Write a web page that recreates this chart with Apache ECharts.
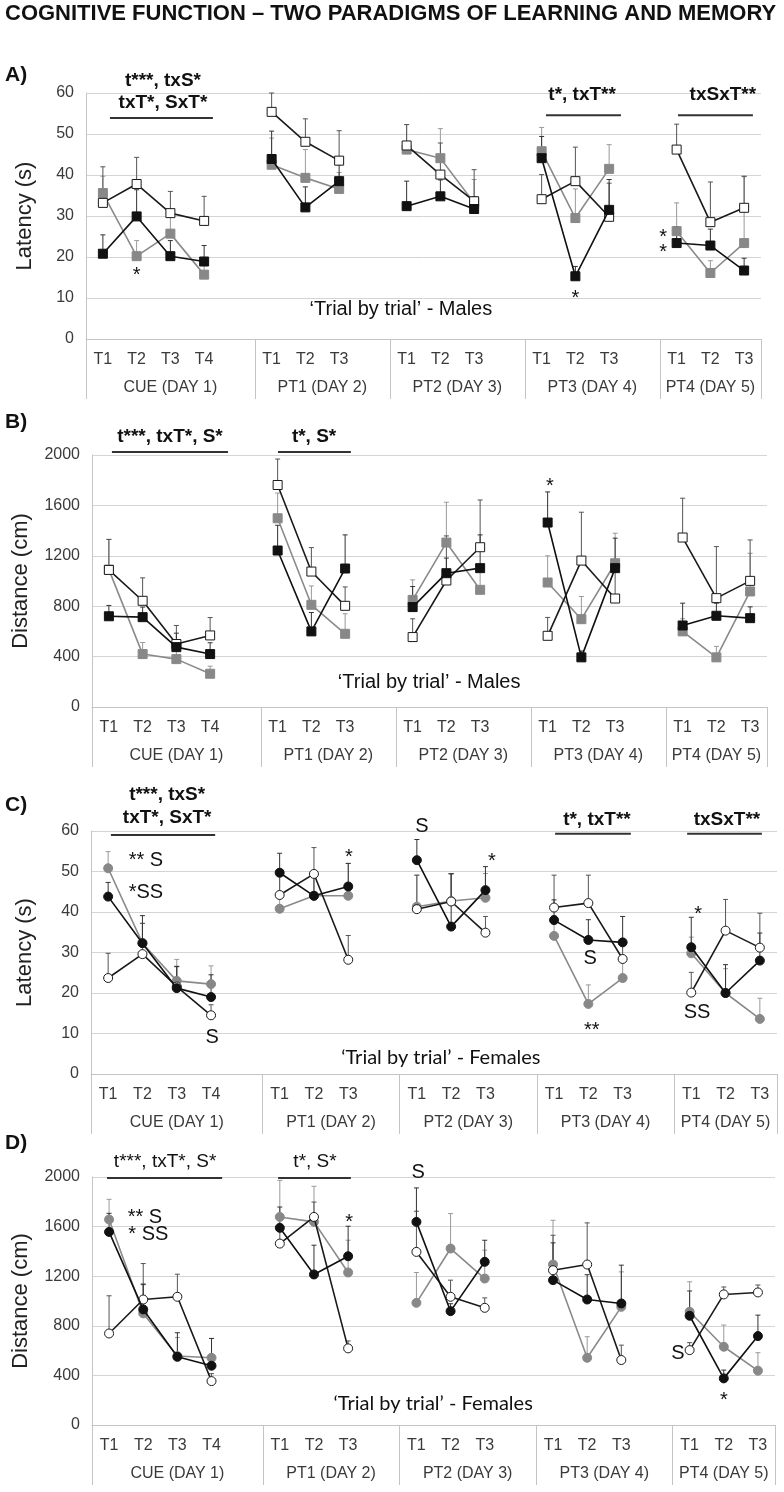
<!DOCTYPE html>
<html>
<head>
<meta charset="utf-8">
<script src="https://cdn.jsdelivr.net/npm/echarts@6/dist/echarts.min.js"></script>
<style>
  html, body { margin: 0; background: #fff; }
  #main { width: 784px; height: 1492px; }
</style>
</head>
<body>
<div id="main"></div>
<script>
// x slots: trials per day, empty slot = gap between days
const slots = ['T1', 'T2', 'T3', 'T4', '', 'T1', 'T2', 'T3', '', 'T1', 'T2', 'T3', '', 'T1', 'T2', 'T3', '', 'T1', 'T2', 'T3']
const days = ['CUE (DAY 1)', 'PT1 (DAY 2)', 'PT2 (DAY 3)', 'PT3 (DAY 4)', 'PT4 (DAY 5)']
const dayEdges = [0, 5, 9, 13, 17, 20]
const dayMid = [2.5, 7, 11, 15, 18.5]

// values in trial order: CUE T1-T4, PT1 T1-T3, PT2, PT3, PT4
// A) latency, males
const latMaleBlack = [20.8, 29.9, 20.2, 18.9, 43.9, 32.1, 38.5, 32.4, 34.8, 31.7, 44.1, 15.3, 31.5, 23.4, 22.8, 16.7]
const latMaleBlackSE = [4.6, 6.5, 3.8, 3.9, 6.8, 5, 4, 6.1, 4, 3, 5.3, 2.4, 7.4, 4, 4, 3]
const latMaleGrey = [35.6, 20.2, 25.7, 15.7, 42.5, 39.3, 36.6, 46.2, 44.1, 33.2, 45.8, 29.5, 41.5, 26.3, 16.1, 23.4]
const latMaleGreySE = [4.1, 3.8, 4, 3, 6.5, 6.9, 4, 6.1, 7.2, 5.7, 5.8, 7.1, 5.9, 6.9, 3, 16.4]
const latMaleWhite = [33.2, 37.8, 30.7, 28.8, 55.4, 48.1, 43.5, 47.2, 40.1, 33.6, 34.1, 38.5, 29.8, 46.2, 28.5, 32]
const latMaleWhiteSE = [8.8, 6.5, 5.3, 6, 4.6, 5.6, 7.3, 5.1, 7.7, 7.7, 6, 8.3, 8.2, 6.2, 9.8, 7.6]
// B) distance, males
const distMaleBlack = [720, 713, 475, 420, 1242, 600, 1099, 793, 1062, 1102, 1464, 394, 1102, 647, 724, 705]
const distMaleBlackSE = [86, 80, 111, 90, 200, 150, 267, 163, 120, 264, 243, 50, 238, 177, 100, 90]
const distMaleGrey = [1090, 420, 380, 264, 1498, 811, 581, 850, 1305, 930, 988, 697, 1141, 600, 394, 917]
const distMaleGreySE = [240, 92, 120, 60, 200, 150, 159, 159, 320, 150, 212, 180, 238, 100, 87, 303]
const distMaleWhite = [1088, 843, 500, 568, 1762, 1075, 803, 555, 1004, 1268, 565, 1162, 861, 1345, 864, 1001]
const distMaleWhiteSE = [242, 182, 147, 142, 206, 190, 150, 145, 354, 375, 146, 384, 300, 312, 409, 325]
// C) latency, females
const latFemBlack = [43.8, 32.3, 21.2, 19, 49.7, 44, 46.3, 52.8, 36.4, 45.4, 38, 33.1, 32.5, 31.3, 20, 28]
const latFemBlackSE = [3.5, 6.8, 5.3, 5.5, 4.8, 5, 5.7, 5.1, 13, 5.8, 5, 5, 6.4, 7.4, 7, 6.8]
const latFemGrey = [50.8, 32.3, 23, 22.2, 40.8, 44, 44, 41.3, 42.7, 43.5, 34.1, 17.3, 23.7, 29.8, 20, 13.6]
const latFemGreySE = [4.1, 4.9, 5.3, 4.5, 8, 5, 8, 7.8, 6.8, 6, 5, 4.7, 5, 4, 6, 5.1]
const latFemWhite = [23.7, 29.6, 21.6, 14.5, 44.2, 49.4, 28.2, 40.7, 42.6, 34.9, 41.1, 42.2, 28.4, 20.1, 35.4, 31.2]
const latFemWhiteSE = [6.1, 7.6, 5, 2.6, 5, 6.5, 6, 8.4, 6.9, 4, 8, 6.9, 5, 5, 7.7, 8.5]
// D) distance, females
const distFemBlack = [1557, 932, 550, 478, 1590, 1214, 1361, 1638, 918, 1316, 1168, 1012, 980, 881, 376, 717]
const distFemBlackSE = [150, 200, 194, 220, 168, 236, 242, 274, 60, 174, 301, 200, 309, 200, 67, 169]
const distFemGrey = [1657, 900, 556, 542, 1678, 1638, 1230, 985, 1423, 1181, 1294, 542, 953, 913, 631, 438]
const distFemGreySE = [163, 241, 150, 156, 295, 287, 260, 245, 282, 229, 357, 170, 282, 242, 175, 145]
const distFemWhite = [738, 1012, 1034, 354, 1463, 1678, 618, 1396, 1034, 945, 1248, 1294, 524, 604, 1053, 1069]
const distFemWhiteSE = [304, 290, 182, 60, 120, 120, 60, 328, 134, 80, 282, 336, 120, 60, 60, 60]

const FONT = "'Liberation Sans', Arial, sans-serif"

const panels = [
  { letter: 'A)', name: 'Latency (s)', max: 60, step: 10, nameGap: 50, sym: 'rect',
    grid: { left: 86, right: 23, top: 93, height: 246 }, letterY: 75,
    black: [latMaleBlack, latMaleBlackSE], grey: [latMaleGrey, latMaleGreySE], white: [latMaleWhite, latMaleWhiteSE] },
  { letter: 'B)', name: 'Distance (cm)', max: 2000, step: 400, nameGap: 60, sym: 'rect',
    grid: { left: 92, right: 17, top: 455, height: 252 }, letterY: 422,
    black: [distMaleBlack, distMaleBlackSE], grey: [distMaleGrey, distMaleGreySE], white: [distMaleWhite, distMaleWhiteSE] },
  { letter: 'C)', name: 'Latency (s)', max: 60, step: 10, nameGap: 55, sym: 'circle',
    grid: { left: 91, right: 7, top: 831, height: 243 }, letterY: 805,
    black: [latFemBlack, latFemBlackSE], grey: [latFemGrey, latFemGreySE], white: [latFemWhite, latFemWhiteSE] },
  { letter: 'D)', name: 'Distance (cm)', max: 2000, step: 400, nameGap: 60, sym: 'circle',
    grid: { left: 92, right: 9, top: 1177, height: 248 }, letterY: 1143,
    black: [distFemBlack, distFemBlackSE], grey: [distFemGrey, distFemGreySE], white: [distFemWhite, distFemWhiteSE] }
]

// annotation layout, in (slot, value) units of each panel
// k: h = bold header, r = regular header, s = mark, m = caption (males), f = caption (females)
const notes = [
  [
    { x: 2.28, y: 62.9, t: 't***, txS*', k: 'h' }, { x: 2.28, y: 57.6, t: 'txT*, SxT*', k: 'h' },
    { x: 14.7, y: 59.5, t: 't*, txT**', k: 'h' }, { x: 18.87, y: 59.5, t: 'txSxT**', k: 'h' },
    { x: 1.5, y: 16.8, t: '*', k: 's' }, { x: 14.5, y: 11.2, t: '*', k: 's' },
    { x: 17.1, y: 26.1, t: '*', k: 's' }, { x: 17.1, y: 22.4, t: '*', k: 's' },
    { x: 9.33, y: 7.1, t: '\u2018Trial by trial\u2019 - Males', k: 'm' }
  ],
  [
    { x: 2.31, y: 2143, t: 't***, txT*, S*', k: 'h' }, { x: 6.58, y: 2143, t: 't*, S*', k: 'h' },
    { x: 13.57, y: 1786, t: '*', k: 's' },
    { x: 9.99, y: 198, t: '\u2018Trial by trial\u2019 - Males', k: 'm' }
  ],
  [
    { x: 2.22, y: 68.9, t: 't***, txS*', k: 'h' }, { x: 2.22, y: 63.2, t: 'txT*, SxT*', k: 'h' },
    { x: 14.75, y: 62.7, t: 't*, txT**', k: 'h' }, { x: 18.54, y: 62.7, t: 'txSxT**', k: 'h' },
    { x: 1.6, y: 52.8, t: '** S', k: 's' }, { x: 1.6, y: 44.9, t: '*SS', k: 's' },
    { x: 3.53, y: 9.1, t: 'S', k: 's' }, { x: 7.52, y: 54.8, t: '*', k: 's' },
    { x: 9.65, y: 61.2, t: 'S', k: 's' }, { x: 11.69, y: 53.6, t: '*', k: 's' },
    { x: 14.55, y: 28.6, t: 'S', k: 's' }, { x: 14.6, y: 12.1, t: '**', k: 's' },
    { x: 17.7, y: 40.5, t: '*', k: 's' }, { x: 17.67, y: 15.3, t: 'SS', k: 's' },
    { x: 10.2, y: 4, t: '\u2018Trial by trial\u2019 - Females', k: 'f' }
  ],
  [
    { x: 2.14, y: 2121, t: 't***, txT*, S*', k: 'r' }, { x: 6.53, y: 2121, t: 't*, S*', k: 'r' },
    { x: 1.55, y: 1677, t: '** S', k: 's' }, { x: 1.65, y: 1540, t: '* SS', k: 's' },
    { x: 7.53, y: 1677, t: '*', k: 's' }, { x: 9.55, y: 2040, t: 'S', k: 's' },
    { x: 17.16, y: 580, t: 'S', k: 's' }, { x: 18.5, y: 242, t: '*', k: 's' },
    { x: 9.99, y: 177, t: '\u2018Trial by trial\u2019 - Females', k: 'f' }
  ]
]
// underlines: [from slot, to slot, value]
const rules = [
  [[0.71, 3.76, 53.9], [13.63, 15.85, 54.6], [17.54, 19.76, 54.6]],
  [[0.59, 4.03, 2024], [5.51, 7.67, 2024]],
  [[0.58, 3.62, 59], [13.53, 15.74, 59.3], [17.38, 19.56, 59.3]],
  [[0.44, 3.81, 1992], [5.45, 7.58, 1992]]
]

// put the 16 trial values onto the 20 slots
function spread(vals) {
  let k = 0
  return slots.map(s => (s === '' ? null : vals[k++]))
}
function errData(vals, se) {
  const out = []
  let k = 0
  slots.forEach((s, i) => {
    if (s !== '') { out.push([i, vals[k], vals[k] + se[k]]); k++ }
  })
  return out
}
function renderErr(params, api) {
  const p0 = api.coord([api.value(0), api.value(1)])
  const p1 = api.coord([api.value(0), api.value(2)])
  const style = { stroke: api.visual('color'), lineWidth: 1 }
  return {
    type: 'group',
    children: [
      { type: 'line', shape: { x1: p0[0], y1: p0[1], x2: p1[0], y2: p1[1] }, style },
      { type: 'line', shape: { x1: p1[0] - 2.5, y1: p1[1], x2: p1[0] + 2.5, y2: p1[1] }, style }
    ]
  }
}

const grids = [], xAxes = [], yAxes = [], series = []
const axisGrey = '#c4c4c4'
panels.forEach((p, i) => {
  grids.push(p.grid)
  xAxes.push({
    type: 'category', gridIndex: i, data: slots, position: 'bottom',
    axisLine: { lineStyle: { color: axisGrey } },
    axisTick: { interval: 0, length: 4, lineStyle: { color: axisGrey } },
    axisLabel: { interval: 0, margin: 13, fontSize: 16, color: '#3a3a3a', fontFamily: FONT }
  })
  xAxes.push({
    type: 'category', gridIndex: i, data: slots, position: 'bottom',
    axisLine: { show: false },
    axisTick: { alignWithLabel: true, interval: 0, length: 4, lineStyle: { color: axisGrey } },
    axisLabel: { show: false }
  })
  xAxes.push({
    type: 'value', gridIndex: i, min: 0, max: 20, position: 'bottom',
    axisLine: { show: false }, splitLine: { show: false },
    axisTick: { show: true, customValues: dayEdges, length: 60, lineStyle: { color: axisGrey } },
    axisLabel: {
      customValues: dayMid, margin: 41, fontSize: 16, color: '#3a3a3a', fontFamily: FONT,
      formatter: v => days[dayMid.indexOf(v)]
    }
  })
  yAxes.push({
    type: 'value', gridIndex: i, min: 0, max: p.max, interval: p.step,
    axisLine: { show: true, lineStyle: { color: axisGrey } }, axisTick: { show: false },
    splitLine: { lineStyle: { color: '#d4d4d4' } },
    axisLabel: { fontSize: 16, color: '#3a3a3a', margin: 12, fontFamily: FONT, formatter: v => String(v) },
    name: p.name, nameLocation: 'middle', nameGap: p.nameGap, nameRotate: 90,
    nameTextStyle: { fontSize: 22, color: '#222', fontFamily: FONT }
  })
  const groups = [
    { d: p.grey, fill: '#888888', line: '#8a8a8a', err: '#9a9a9a', border: '#888888' },
    { d: p.white, fill: '#ffffff', line: '#1a1a1a', err: '#555555', border: '#1a1a1a' },
    { d: p.black, fill: '#111111', line: '#111111', err: '#333333', border: '#111111' }
  ]
  groups.forEach(g => {
    series.push({
      type: 'custom', xAxisIndex: i * 3, yAxisIndex: i, renderItem: renderErr,
      data: errData(g.d[0], g.d[1]), encode: { x: 0, y: [1, 2] },
      itemStyle: { color: g.err }, z: 1, silent: true
    })
  })
  groups.forEach((g, j) => {
    series.push({
      type: 'line', xAxisIndex: i * 3, yAxisIndex: i, data: spread(g.d[0]),
      connectNulls: false, symbol: p.sym, symbolSize: 9, showSymbol: true,
      lineStyle: { color: g.line, width: 1.6 },
      itemStyle: { color: g.fill, borderColor: g.border, borderWidth: 1 },
      z: 3 + j, silent: true
    })
  })
})

const chart = echarts.init(document.getElementById('main'))
chart.setOption({
  animation: false,
  textStyle: { fontFamily: FONT },
  grid: grids,
  xAxis: xAxes,
  yAxis: yAxes,
  series: series
})

// annotations placed through each panel's own axes
const noteFont = {
  h: 'bold 19px ' + FONT,
  r: '19px ' + FONT,
  s: '20px ' + FONT,
  m: '20px ' + FONT,
  f: '20px Lato, ' + FONT
}
const graphics = [
  { type: 'text', left: 5, top: 3, style: { text: 'COGNITIVE FUNCTION \u2013 TWO PARADIGMS OF LEARNING AND MEMORY', font: "bold 22px 'Liberation Sans Narrow', " + FONT, fill: '#111' } }
]
panels.forEach((p, i) => {
  const toPx = (x, y) => chart.convertToPixel({ xAxisIndex: i * 3 + 2, yAxisIndex: i }, [x, y])
  graphics.push({ type: 'text', x: 5, y: p.letterY, style: { text: p.letter, font: 'bold 21px ' + FONT, fill: '#111', textVerticalAlign: 'middle' } })
  notes[i].forEach(n => {
    const pt = toPx(n.x, n.y)
    // asterisks sit high in the em box, nudge them down
    const dy = /^\*+$/.test(n.t) ? 5 : 0
    graphics.push({
      type: 'text', x: pt[0], y: pt[1] + dy,
      style: { text: n.t, font: noteFont[n.k], fill: '#111', textAlign: 'center', textVerticalAlign: 'middle' }
    })
  })
  rules[i].forEach(r => {
    const a = toPx(r[0], r[2]), b = toPx(r[1], r[2])
    graphics.push({ type: 'line', shape: { x1: a[0], y1: a[1], x2: b[0], y2: b[1] }, style: { stroke: '#333', lineWidth: 2 } })
  })
})
chart.setOption({ graphic: graphics })
</script>
</body>
</html>
